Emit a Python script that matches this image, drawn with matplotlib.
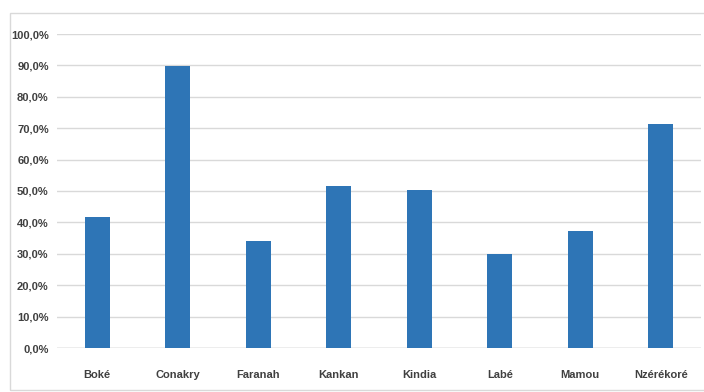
import matplotlib
matplotlib.use("Agg")
import matplotlib.pyplot as plt
from matplotlib.patches import Rectangle

categories = ["Boké", "Conakry", "Faranah", "Kankan", "Kindia", "Labé", "Mamou", "Nzérékoré"]
values = [41.8, 89.7, 34.0, 51.7, 50.4, 30.0, 37.4, 71.3]
yticks = [0, 10, 20, 30, 40, 50, 60, 70, 80, 90, 100]
ytick_labels = [f"{v},0%" for v in yticks]

fam = "Liberation Sans"

W, H = 704, 392
fig = plt.figure(figsize=(W/100, H/100), dpi=100)
fig.patches.append(Rectangle((10/W, 2/H), 700/W, 377/H, transform=fig.transFigure,
                             fill=False, edgecolor="#d9d9d9", linewidth=1))
ax = fig.add_axes([57/W, 1-348/H, (701-57)/W, (348-34)/H])
x = list(range(len(categories)))
ax.bar(x, values, width=0.31, color="#2e75b6", zorder=3)
ax.set_xlim(-0.5, len(categories)-0.5)
ax.set_ylim(0, 100)
ax.set_yticks(yticks)
ax.set_yticklabels(ytick_labels, fontfamily=fam, fontweight="bold", fontsize=8, color="#404040")
ax.set_xticks(x)
ax.set_xticklabels(categories, fontfamily=fam, fontweight="bold", fontsize=8, color="#404040")
ax.tick_params(axis="both", length=0)
ax.tick_params(axis="y", pad=6)
ax.tick_params(axis="x", pad=16)
ax.grid(axis="y", color="#d9d9d9", linewidth=1, zorder=0)
for s in ax.spines.values():
    s.set_visible(False)
ax.axhline(0, color="#c8c8c8", linewidth=1, zorder=2)
fig.savefig("out.png", dpi=100)
